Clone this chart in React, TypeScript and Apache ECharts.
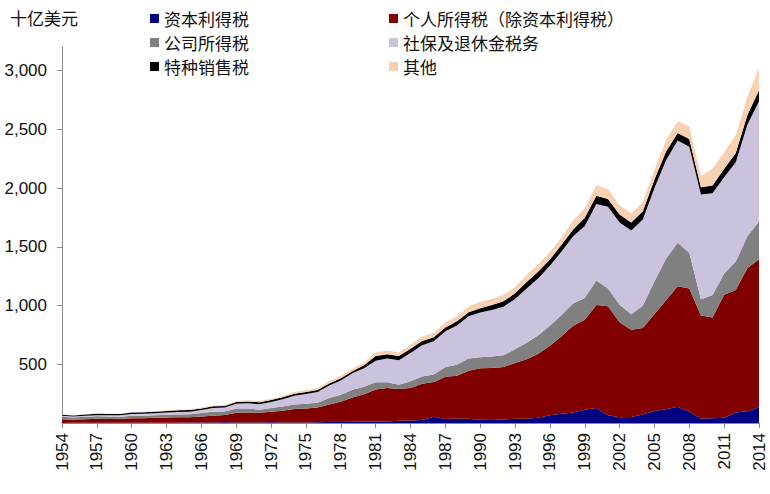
import React, { useEffect, useRef } from "react";
import * as echarts from "echarts";

const years: string[] = [];
for (let y = 1954; y <= 2014; y++) years.push(String(y));

const seriesNames = [
  "资本利得税",
  "个人所得税（除资本利得税）",
  "公司所得税",
  "社保及退休金税务",
  "特种销售税",
  "其他",
];

const capitalGains = [
  1.0, 1.5, 1.5, 1.2, 1.3, 1.9, 1.8, 2.6, 2.1, 2.3, 2.7, 3.3, 3.3, 4.3, 5.4, 5.3,
  3.2, 4.4, 5.7, 4.9, 4.3, 4.5, 6.4, 7.7, 8.8, 11.7, 12.5, 12.7, 12.9, 18.5, 21.5,
  26.5, 52.9, 33.7, 38.9, 35.3, 27.8, 24.9, 29.0, 36.1, 36.2, 44.3, 66.4, 79.3,
  89.1, 111.8, 127.3, 65.7, 49.1, 51.3, 73.2, 102.2, 117.8, 137.4, 95, 36, 40, 45,
  90, 100, 135,
];

const individualEx = [
  31.4, 27.2, 30.7, 34.4, 33.4, 34.8, 38.9, 38.7, 43.5, 45.3, 46.0, 45.5, 52.1,
  57.2, 63.3, 81.9, 87.2, 81.8, 89.0, 98.3, 114.7, 117.9, 125.2, 149.9, 172.2,
  206.1, 231.6, 273.2, 284.8, 270.4, 276.9, 308.0, 296.1, 358.9, 362.3, 410.4,
  439.1, 442.9, 447.0, 473.6, 506.9, 545.9, 590.0, 658.2, 739.5, 767.7, 877.2,
  928.6, 809.2, 742.4, 735.8, 825.0, 926.1, 1026.1, 1050.7, 879.3, 858.5, 1046.5,
  1042.2, 1216.4, 1259.6,
];

const corporate = [
  21.1, 17.9, 20.9, 21.2, 20.1, 17.3, 21.5, 21.0, 20.5, 21.6, 23.5, 25.5, 30.1,
  34.0, 28.7, 36.7, 32.8, 26.8, 32.2, 36.2, 38.6, 40.6, 41.4, 54.9, 60.0, 65.7,
  64.6, 61.1, 49.2, 37.0, 56.9, 61.3, 63.1, 83.9, 94.5, 103.3, 93.5, 98.1, 100.3,
  117.5, 140.4, 157.0, 171.8, 182.3, 188.7, 184.7, 207.3, 151.1, 148.0, 131.8,
  189.4, 278.3, 353.9, 370.2, 304.3, 138.2, 191.4, 181.1, 242.3, 273.5, 320.7,
];

const socialInsurance = [
  7.2, 7.9, 9.3, 10.0, 11.2, 11.7, 14.7, 16.4, 17.0, 19.8, 22.0, 22.2, 25.5, 32.6,
  33.9, 39.0, 44.4, 47.3, 52.6, 63.1, 75.1, 84.5, 90.8, 106.5, 121.0, 138.9, 157.8,
  182.7, 201.5, 209.0, 239.4, 265.2, 283.9, 303.3, 334.3, 359.4, 380.0, 396.0,
  413.7, 428.3, 461.5, 484.5, 509.4, 539.4, 571.8, 611.8, 652.9, 694.0, 700.8,
  713.0, 733.4, 794.1, 837.8, 869.6, 900.2, 890.9, 864.8, 818.8, 845.3, 947.8,
  1023.5,
];

const excise = [
  10.0, 9.2, 10.0, 11.0, 10.6, 10.6, 11.7, 11.9, 12.5, 13.2, 13.7, 14.6, 13.1, 13.7,
  14.1, 15.2, 15.7, 16.6, 15.5, 16.3, 16.8, 16.6, 17.0, 17.5, 18.4, 18.7, 24.3, 40.8,
  36.3, 35.3, 37.4, 36.0, 32.9, 32.5, 35.2, 34.4, 35.3, 42.4, 45.6, 48.1, 55.2, 57.5,
  54.0, 56.9, 57.7, 70.4, 68.9, 66.2, 67.0, 67.5, 69.9, 73.1, 74.0, 65.1, 67.3, 62.5,
  66.9, 72.4, 79.1, 84.0, 93.4,
];

const other = [
  2.9, 1.7, 2.2, 2.3, 2.9, 3.0, 3.9, 3.8, 3.9, 4.5, 4.8, 5.7, 6.8, 7.0, 7.6, 8.7, 9.5,
  10.2, 12.4, 11.8, 13.7, 14.9, 17.2, 18.8, 19.4, 22.1, 26.3, 28.7, 33.0, 30.3, 34.4,
  37.0, 40.2, 42.0, 43.8, 48.3, 56.2, 50.8, 55.5, 50.8, 58.6, 62.4, 61.4, 63.2, 75.4,
  81.3, 91.7, 85.6, 79.2, 76.1, 78.5, 81.0, 97.0, 99.6, 106.6, 98.1, 141.2, 139.4,
  151.2, 153.6, 189.3,
];

const colors = ["#000080", "#800000", "#808080", "#cbc3dd", "#000000", "#f8d0b2"];
const yTicks = [500, 1000, 1500, 2000, 2500, 3000];

export default function App() {
  const ref = useRef<HTMLDivElement>(null);
  useEffect(() => {
    if (!ref.current) return;
    const chart = echarts.init(ref.current, undefined, { renderer: "svg" });
    const dataArr = [capitalGains, individualEx, corporate, socialInsurance, excise, other];
    const legendText = {
      fontSize: 17,
      color: "#111",
      fontFamily: "Noto Sans CJK SC",
      lineHeight: 17,
    };
    chart.setOption({
      animation: false,
      color: colors,
      title: {
        text: "十亿美元",
        left: 5,
        top: 4,
        textStyle: {
          fontSize: 17,
          fontWeight: "normal",
          color: "#111",
          fontFamily: "Noto Sans CJK SC",
        },
      },
      legend: [
        {
          data: [seriesNames[0], seriesNames[2], seriesNames[4]],
          orient: "vertical",
          left: 145,
          top: 5,
          itemWidth: 9,
          itemHeight: 9,
          itemGap: 7,
          itemStyle: { borderWidth: 0 },
          icon: "rect",
          textStyle: legendText,
        },
        {
          data: [seriesNames[1], seriesNames[3], seriesNames[5]],
          orient: "vertical",
          left: 384,
          top: 5,
          itemWidth: 9,
          itemHeight: 9,
          itemGap: 7,
          itemStyle: { borderWidth: 0 },
          icon: "rect",
          textStyle: legendText,
        },
      ],
      grid: { left: 62, right: 11, top: 47, bottom: 71, containLabel: false },
      xAxis: {
        type: "category",
        data: years,
        boundaryGap: false,
        axisLine: { lineStyle: { color: "#888", width: 1 } },
        axisTick: { interval: 2, length: 5, lineStyle: { color: "#888" } },
        axisLabel: {
          interval: 2,
          rotate: 90,
          margin: 10,
          fontSize: 17,
          color: "#111",
          fontFamily: "Liberation Sans",
        },
        splitLine: { show: false },
      },
      yAxis: {
        type: "value",
        min: 0,
        max: 3200,
        interval: 500,
        axisLine: { show: true, lineStyle: { color: "#888", width: 1 } },
        axisTick: {
          show: true,
          length: 5,
          lineStyle: { color: "#888" },
          customValues: yTicks,
        },
        axisLabel: {
          margin: 15,
          fontSize: 17,
          color: "#111",
          fontFamily: "Liberation Sans",
          customValues: yTicks,
          formatter: (v: number) =>
            v === 0 || v > 3000 ? "" : v.toLocaleString("en-US"),
        },
        splitLine: { show: false },
      },
      series: seriesNames.map((name, i) => ({
        name,
        type: "line",
        stack: "total",
        data: dataArr[i],
        showSymbol: false,
        symbol: "none",
        lineStyle: { width: 0 },
        areaStyle: { color: colors[i], opacity: 1 },
        itemStyle: { color: colors[i] },
      })),
    });
    return () => chart.dispose();
  }, []);
  return (
    <div
      ref={ref}
      style={{ position: "absolute", left: 0, top: 0, width: 770, height: 494 }}
    />
  );
}
